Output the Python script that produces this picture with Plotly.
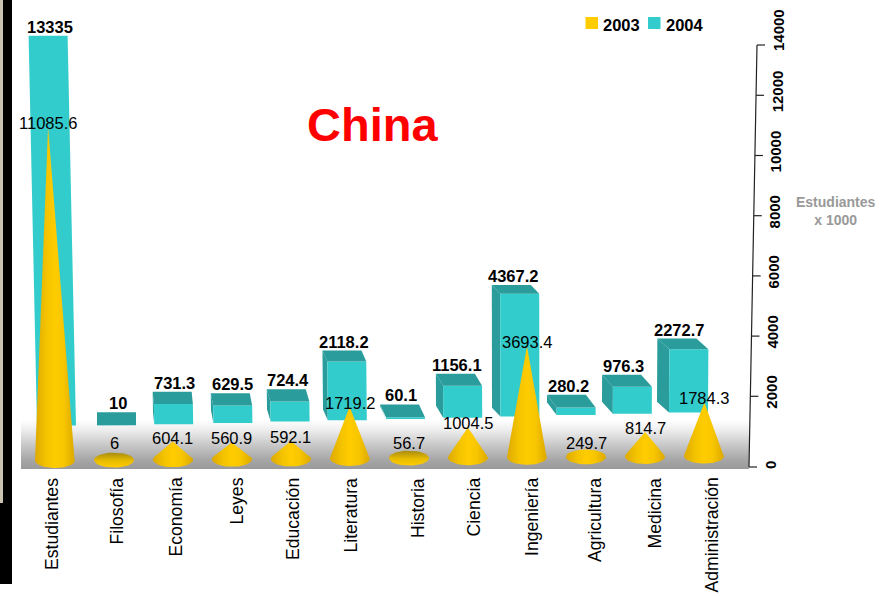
import math
import plotly.graph_objects as go

categories = ["Estudiantes", "Filosofía", "Economía", "Leyes", "Educación", "Literatura",
              "Historia", "Ciencia", "Ingeniería", "Agricultura", "Medicina", "Administración"]
values_2003 = [11085.6, 6, 604.1, 560.9, 592.1, 1719.2, 56.7, 1004.5, 3693.4, 249.7, 814.7, 1784.3]
values_2004 = [13335, 10, 731.3, 629.5, 724.4, 2118.2, 60.1, 1156.1, 4367.2, 280.2, 976.3, 2272.7]
label_2003 = ["11085.6", "6", "604.1", "560.9", "592.1", "1719.2", "56.7", "1004.5", "3693.4", "249.7", "814.7", "1784.3"]
label_2004 = ["13335", "10", "731.3", "629.5", "724.4", "2118.2", "60.1", "1156.1", "4367.2", "280.2", "976.3", "2272.7"]
axis_ticks = [0, 2000, 4000, 6000, 8000, 10000, 12000, 14000]

W, H = 888, 596
FONT = "Liberation Sans, Arial, sans-serif"
CYAN, TEAL = "#33CCCC", "#2A9C9C"
GOLD = "#FFCC00"

# The plot area fills the page, so scales are defined by these two linear maps.
X0, X_STEP = 55.0, 59.0       # px of category 0, px per category
Y0, Y_SCALE = 456.5, 0.0301   # px of value 0, px per unit


def ux(px):
    return (px - X0) / X_STEP


def uy(py):
    return (Y0 - py) / Y_SCALE


def lean(height_px, px):
    """Sideways drift of a tall mark caused by the oblique projection."""
    return -height_px * (527 - px) * 4.4e-5


def add_poly(fig, xs, ys, **style):
    fig.add_trace(go.Scatter(x=[ux(a) for a in xs], y=[uy(b) for b in ys], mode="lines",
                             fill="toself", line=dict(width=0), hoverinfo="skip",
                             showlegend=False, **style))


def paper_text(fig, px, py, text, **font):
    fig.add_annotation(xref="paper", yref="paper", x=px / W, y=1 - py / H, text=text, showarrow=False,
                       xanchor="center", yanchor="middle", font=dict(family=FONT, **font))


fig = go.Figure()

# Floor band behind the marks
add_poly(fig, [21, 749, 749, 21], [412, 412, 469, 469],
         fillgradient=dict(type="vertical", colorscale=[
             [0, "#9A9A9A"], [0.16, "#A6A6A6"], [0.42, "#C8C8C8"], [0.68, "#EDEDED"],
             [0.86, "#FFFFFF"], [1, "#FFFFFF"]]))

# 2004: oblique boxes in the back row
bar_left = [37, 97, 153, 211, 267, 323, 380, 436, 492, 547, 602, 657]
for i, value in enumerate(values_2004):
    back_left = bar_left[i]
    width = 39
    dx = 1.2 * max(i - 1, 0)
    front_base = 425.5 - 1.3 * max(i - 1, 0)
    h = value * (0.0275 + 1.3e-7 * value)
    dy = max(13 - value * 0.00098, 0)
    top = front_base - h
    drift = lean(h, back_left)
    fl, fr = back_left + dx, back_left + dx + width
    # side face
    add_poly(fig, [back_left + drift, fl + drift, fl, back_left],
             [top - dy, top, front_base, front_base - dy], fillcolor=TEAL)
    # front face
    add_poly(fig, [fl + drift, fr + drift, fr, fl], [top, top, front_base, front_base], fillcolor=CYAN)
    # top face
    add_poly(fig, [back_left + drift, back_left + width + drift, fr + drift, fl + drift],
             [top - dy, top - dy, top, top], fillcolor=TEAL)
    fig.add_annotation(x=ux(back_left + drift + width / 2 + 2), y=uy(top - dy - 9), text=f"<b>{label_2004[i]}</b>",
                       showarrow=False, font=dict(family=FONT, size=16.5, color="#000000"))

# 2003: cones in the front row, outline from the tangents of the elliptical base
RX, RY = 20.0, 7.5
for i, value in enumerate(values_2003):
    cx = X0 + X_STEP * i
    cy = 460.5 - 0.4 * i
    h = value * Y_SCALE
    apex_x = cx + lean(h, cx)
    apex_y = cy - h
    if h > RY:
        start = math.asin(RY / h)
        steps = [-start + (math.pi + 2 * start) * k / 32 for k in range(33)]
        xs = [apex_x] + [cx + RX * math.cos(a) for a in steps]
        ys = [apex_y] + [cy + RY * math.sin(a) for a in steps]
        gradient = dict(type="horizontal", colorscale=[
            [0, "#DDAA00"], [0.3, "#F5C400"], [0.5, GOLD], [0.72, "#F8C600"], [1, "#DCA800"]])
    else:
        steps = [2 * math.pi * k / 48 for k in range(49)]
        xs = [cx + RX * math.cos(a) for a in steps]
        ys = [cy + RY * math.sin(a) for a in steps]
        gradient = dict(type="vertical", colorscale=[[0, GOLD], [0.45, "#E8BC00"], [1, "#A88C10"]])
    add_poly(fig, xs, ys, fillgradient=gradient)
    fig.add_annotation(x=ux(apex_x), y=uy(min(apex_y - 4, 443)), text=label_2003[i],
                       showarrow=False, font=dict(family=FONT, size=16.5, color="#000000"))


def axis_px(py):
    """Horizontal position of the slanted value axis at a given pixel row."""
    return 749 + (467 - py) * 8 / 422


# Slanted value axis on the right
tick_rows = {t: Y0 - t * Y_SCALE for t in axis_ticks}
tick_rows[0] = 467
tick_rows[14000] = 45
fig.add_trace(go.Scatter(x=[ux(axis_px(467)), ux(axis_px(45))], y=[uy(467), uy(45)], mode="lines",
                         line=dict(color="#222222", width=1.2), hoverinfo="skip", showlegend=False))
for t, py in tick_rows.items():
    ax = axis_px(py)
    fig.add_trace(go.Scatter(x=[ux(ax), ux(ax + 8)], y=[uy(py), uy(py)], mode="lines",
                             line=dict(color="#222222", width=1.2), hoverinfo="skip", showlegend=False))
    label_row = {0: 465, 14000: 30}.get(t, py - 4)
    fig.add_annotation(x=ux(ax + 21), y=uy(label_row), text=f"<b>{t}</b>", textangle=-90, showarrow=False,
                       font=dict(family=FONT, size=15, color="#000000"))

# Category names: rotated, hanging from a common line under the floor
name_x = [52, 116, 175, 236, 293, 350, 418, 473, 532, 595, 654, 711]
for name, px in zip(categories, name_x):
    fig.add_annotation(x=ux(px), y=uy(476), text=name, textangle=-90, showarrow=False, yanchor="top",
                       font=dict(family=FONT, size=17.6, color="#000000"))

paper_text(fig, 372, 124, "<b>China</b>", size=47, color="#FF0000")
paper_text(fig, 836, 211, "<b>Estudiantes<br>x 1000</b>", size=14, color="#999999")

# Key
for x_sw, color, x_text, name in [(585.5, GOLD, 621.5, "2003"), (648, CYAN, 684.5, "2004")]:
    fig.add_shape(type="rect", xref="paper", yref="paper", x0=x_sw / W, x1=(x_sw + 12.5) / W,
                  y0=1 - 29 / H, y1=1 - 17 / H, fillcolor=color, line_width=0)
    paper_text(fig, x_text, 25, f"<b>{name}</b>", size=16.5, color="#000000")

# Dark frame along the left edge
fig.add_shape(type="rect", xref="paper", yref="paper", x0=0, x1=3 / W, y0=1 - 503 / H, y1=1,
              fillcolor="#C9C2B0", line_width=0)
fig.add_shape(type="rect", xref="paper", yref="paper", x0=3 / W, x1=12 / W, y0=1 - 503 / H, y1=1,
              fillcolor="#000000", line_width=0)
fig.add_shape(type="rect", xref="paper", yref="paper", x0=0, x1=12 / W, y0=1 - 584 / H, y1=1 - 503 / H,
              fillcolor="#000000", line_width=0)

fig.update_layout(
    width=W, height=H, margin=dict(l=0, r=0, t=0, b=0),
    paper_bgcolor="#FFFFFF", plot_bgcolor="#FFFFFF", showlegend=False,
    xaxis=dict(visible=False, range=[ux(0), ux(W)], domain=[0, 1]),
    yaxis=dict(visible=False, range=[uy(H), uy(0)], domain=[0, 1]),
)
fig.write_html("out.html")
